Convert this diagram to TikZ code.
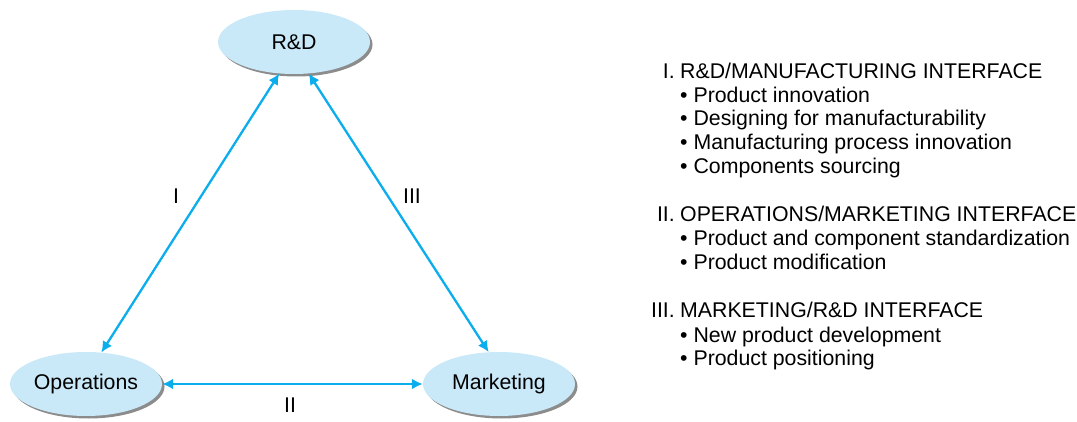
\documentclass[tikz,border=0pt]{standalone}
\usepackage{fontspec}
\setmainfont{Liberation Sans}
\usetikzlibrary{shapes.geometric,shadows,arrows.meta}
\definecolor{linkblue}{HTML}{0BADEC}
\definecolor{bubble}{HTML}{C9E9F8}

\begin{document}
\begin{tikzpicture}[x=1pt,y=-1pt,
  area/.style={ellipse, fill=bubble, minimum width=152pt, minimum height=64pt, inner sep=0pt,
    font=\fontsize{21.3}{24}\selectfont,
    drop shadow={shadow xshift=2.5pt, shadow yshift=-2.5pt, fill=black!45, opacity=1}},
  link/.style={linkblue, line width=2.3pt, {Latex[length=11pt,width=11pt]}-{Latex[length=11pt,width=11pt]}},
  tag/.style={font=\fontsize{21.3}{24}\selectfont, inner sep=0pt},
  num/.style={anchor=base east, inner sep=0pt, font=\fontsize{21.3}{24}\selectfont},
  item/.style={anchor=base west, inner sep=0pt, font=\fontsize{21.3}{24}\selectfont}]

\useasboundingbox (0,0) rectangle (1077,422);

% the three functions
\node[area] (rd)  at (294,42)  {R\&D};
\node[area] (ops) at (86,384)  {Operations};
\node[area] (mkt) at (499,384) {Marketing};

% interfaces
\draw[link] (rd.245) -- (ops.64);
\draw[link] (ops.east) -- (mkt.west);
\draw[link] (rd.295) -- (mkt.108);

\node[tag] (t1) at (176,196) {I};
\node[tag] (t2) at (290,405) {II};
\node[tag] (t3) at (412,196) {III};

% list of interfaces
\node[num]  (n1)  at (675,79)  {I.};
\node[item] (h1)  at (680,79)  {R\&D/MANUFACTURING INTERFACE};
\node[item] (i1a) at (680,103) {\textbullet\ Product innovation};
\node[item] (i1b) at (680,126) {\textbullet\ Designing for manufacturability};
\node[item] (i1c) at (680,150) {\textbullet\ Manufacturing process innovation};
\node[item] (i1d) at (680,174) {\textbullet\ Components sourcing};

\node[num]  (n2)  at (675,222) {II.};
\node[item] (h2)  at (680,222) {OPERATIONS/MARKETING INTERFACE};
\node[item] (i2a) at (680,246) {\textbullet\ Product and component standardization};
\node[item] (i2b) at (680,270) {\textbullet\ Product modification};

\node[num]  (n3)  at (675,318) {III.};
\node[item] (h3)  at (680,318) {MARKETING/R\&D INTERFACE};
\node[item] (i3a) at (680,342) {\textbullet\ New product development};
\node[item] (i3b) at (680,365) {\textbullet\ Product positioning};

\end{tikzpicture}
\end{document}
